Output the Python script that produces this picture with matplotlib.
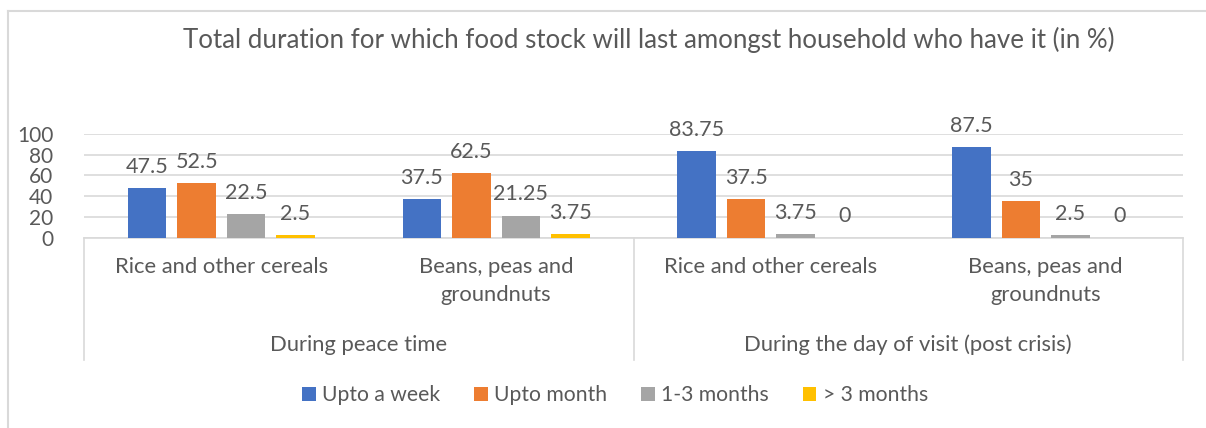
import numpy as np
import matplotlib
matplotlib.use("Agg")
import matplotlib.pyplot as plt
from matplotlib.lines import Line2D
from matplotlib.transforms import blended_transform_factory

plt.rcParams['font.family'] = ['Lato', 'DejaVu Sans']

# data
groups = ['During peace time', 'During the day of visit (post crisis)']
categories = ['Rice and other cereals', 'Beans, peas and\ngroundnuts',
              'Rice and other cereals', 'Beans, peas and\ngroundnuts']
series_names = ['Upto a week', 'Upto month', '1-3 months', '> 3 months']
upto_week = [47.5, 37.5, 83.75, 87.5]
upto_month = [52.5, 62.5, 37.5, 35]
one_three = [22.5, 21.25, 3.75, 2.5]
over_three = [2.5, 3.75, 0, 0]
yticks = [0, 20, 40, 60, 80, 100]

colors = ['#4472C4', '#ED7D31', '#A5A5A5', '#FFC000']
txt = '#595959'
grid = '#D9D9D9'

W, H = 1206, 428
fig = plt.figure(figsize=(W / 100, H / 100), dpi=100)

def fy(py):
    return 1 - py / H

# plot area in pixels: x 84..1183, y 134..237.5
ax = fig.add_axes([84 / W, fy(237.5), (1183 - 84) / W, (237.5 - 134) / H])

x = np.arange(len(categories))
width = 0.14
pitch = 0.18
all_series = [upto_week, upto_month, one_three, over_three]
for i, (vals, name, c) in enumerate(zip(all_series, series_names, colors)):
    pos = x + (i - 1.5) * pitch
    ax.bar(pos, vals, width, color=c, label=name, zorder=3)
    for p, v in zip(pos, vals):
        ax.annotate(f'{v:g}', (p, v), xytext=(0, 8), textcoords='offset points',
                    ha='center', va='bottom', fontsize=15.5, color=txt,
                    annotation_clip=False)

ax.set_xlim(-0.5, len(categories) - 0.5)
ax.set_ylim(0, 100)
ax.set_yticks(yticks)
ax.set_yticklabels([str(t) for t in yticks], fontsize=15, color=txt)
ax.tick_params(axis='y', length=0, pad=22)
ax.set_xticks([])
ax.yaxis.grid(True, color=grid, linewidth=1.2, zorder=0)
for s in ['top', 'right', 'left']:
    ax.spines[s].set_visible(False)
ax.spines['bottom'].set_color(grid)
ax.spines['bottom'].set_linewidth(1.2)

# two-level category axis
tr = blended_transform_factory(ax.transData, fig.transFigure)
for xi, lab in zip(x, categories):
    ax.text(xi, fy(257), lab, transform=tr, ha='center', va='top',
            fontsize=15.8, color=txt, linespacing=1.5)
for gi, g in enumerate(groups):
    ax.text(2 * gi + 0.5, fy(345), g, transform=tr, ha='center', va='center',
            fontsize=15.8, color=txt)
for xd in [-0.5, 1.5, 3.5]:
    ax.add_line(Line2D([xd, xd], [fy(237.5), fy(360)], transform=tr,
                       color=grid, linewidth=1.2, clip_on=False))

fig.text(649 / W, fy(40), 'Total duration for which food stock will last amongst household who have it (in %)',
         ha='center', va='center', fontsize=18.6, color=txt)

# chart border (cut off on right and bottom)
fig.add_artist(Line2D([8 / W, 8 / W], [fy(11), 0], transform=fig.transFigure,
                      color=grid, linewidth=1.5))
fig.add_artist(Line2D([8 / W, 1], [fy(11), fy(11)], transform=fig.transFigure,
                      color=grid, linewidth=1.5))

fig.legend(loc='center', bbox_to_anchor=(615 / W, fy(395)), ncol=4,
           frameon=False, fontsize=15.2, handlelength=0.65, handleheight=0.65,
           handletextpad=0.3, columnspacing=1.6, labelcolor=txt)

fig.savefig('out.png', dpi=100)
